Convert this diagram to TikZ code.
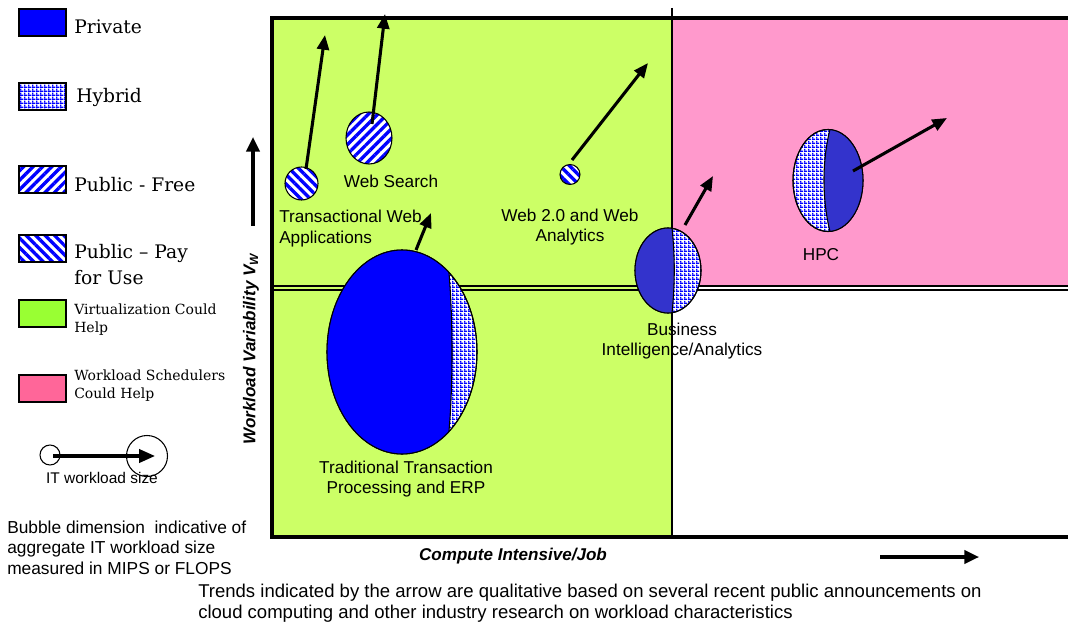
\documentclass[tikz,border=0pt]{standalone}
\usepackage{fontspec}
\setmainfont{DejaVu Serif}
\setsansfont{Liberation Sans}
\usetikzlibrary{arrows.meta,patterns,patterns.meta,shapes.geometric}

\definecolor{greenbg}{HTML}{CCFF66}
\definecolor{pinkbg}{HTML}{FF99CC}
\definecolor{privblue}{HTML}{0000FF}
\definecolor{darkblue}{HTML}{3333CC}
\definecolor{patblue}{HTML}{0000FF}
\definecolor{leggreen}{HTML}{99FF33}
\definecolor{legpink}{HTML}{FF6699}

\tikzdeclarepattern{name=hybridpat, type=uncolored,
  bounding box={(0pt,0pt) and (3pt,3pt)}, tile size={(3pt,3pt)},
  code={\fill (0pt,0pt) rectangle (3pt,1.3pt); \fill (0pt,1.3pt) rectangle (1.3pt,3pt);}}

\begin{document}
\begin{tikzpicture}[x=0.75pt,y=-0.75pt,
  hyb/.style={preaction={fill=white},pattern=hybridpat,pattern color=patblue},
  pfree/.style={preaction={fill=white},pattern={Lines[angle=45,distance=5pt,line width=2.5pt]},pattern color=patblue},
  ppay/.style={preaction={fill=white},pattern={Lines[angle=-45,distance=5pt,line width=2.5pt]},pattern color=patblue},
  outline/.style={draw=black,line width=0.8pt},
  bubble/.style={ellipse,inner sep=0pt,outline},
  trend/.style={line width=2.3pt,-{Triangle[length=11pt,width=9pt]}},
  lbl/.style={font=\sffamily\fontsize{12.9}{15.5}\selectfont,align=center,inner sep=0pt},
  legbox/.style={draw=black,line width=0.8pt,minimum width=35.25pt,minimum height=20.25pt,inner sep=0pt},
  legtxt/.style={font=\fontsize{14}{19.5}\selectfont,inner sep=0pt,align=left},
  legsmall/.style={font=\fontsize{10.5}{13.5}\selectfont,inner sep=0pt,align=left},
  axislbl/.style={font=\sffamily\bfseries\itshape\fontsize{12.8}{14}\selectfont,inner sep=0pt},
  axarrow/.style={line width=2.3pt,-{Triangle[length=11pt,width=10pt]}},
]
\useasboundingbox (0,0) rectangle (1068,624);

% quadrants
\fill[greenbg] (272,18) rectangle (672,537);
\fill[pinkbg] (672,18) rectangle (1075,286);
% middle double line
\draw[line width=2pt] (272,286) -- (1075,286);
\draw[line width=0.8pt] (272,290) -- (1075,290);
% vertical divider
\draw[line width=2pt] (672,8) -- (672,537);
% frame
\draw[line width=3pt] (1080,18) -- (272,18) -- (272,537) -- (1080,537);

% Traditional Transaction Processing and ERP
\node[bubble,hyb,minimum width=112.5pt,minimum height=153pt] (tt) at (402,352) {};
\begin{scope}
  \clip (402,352) ellipse [x radius=75, y radius=102];
  \fill[privblue] (320,240) -- (449,240) -- (449,273) .. controls (453,320) and (453,385) .. (449,431) -- (449,470) -- (320,470) -- cycle;
\end{scope}
\draw[line width=0.8pt] (449,273) .. controls (453,320) and (453,385) .. (449,431);
\draw[outline] (402,352) ellipse [x radius=75, y radius=102];

% Business Intelligence
\node[bubble,hyb,minimum width=49.5pt,minimum height=63.75pt] (bi) at (668,270.5) {};
\begin{scope}
  \clip (668,270.5) ellipse [x radius=33, y radius=42.5];
  \fill[darkblue] (630,220) -- (672,220) -- (672,228) .. controls (675,255) and (675,285) .. (672,313) -- (672,320) -- (630,320) -- cycle;
\end{scope}
\draw[line width=0.8pt] (672,228) .. controls (675,255) and (675,285) .. (672,313);
\draw[outline] (668,270.5) ellipse [x radius=33, y radius=42.5];

% HPC
\node[bubble,hyb,minimum width=52.5pt,minimum height=76.5pt] (hpc) at (828,180.5) {};
\begin{scope}
  \clip (828,180.5) ellipse [x radius=35, y radius=51];
  \fill[darkblue] (830,125) -- (830,129.5) .. controls (822,160) and (822,200) .. (830,231.5) -- (830,236) -- (870,236) -- (870,125) -- cycle;
\end{scope}
\draw[line width=0.8pt] (830,129.5) .. controls (822,160) and (822,200) .. (830,231.5);
\draw[outline] (828,180.5) ellipse [x radius=35, y radius=51];

% striped bubbles
\node[bubble,ppay,minimum width=24.75pt,minimum height=24.75pt] (tw) at (301.5,183.5) {};
\node[bubble,pfree,minimum width=34.5pt,minimum height=39pt] (ws) at (369,138) {};
\node[bubble,ppay,minimum width=15pt,minimum height=15pt] (w2) at (570,174.5) {};

% trend arrows
\coordinate (twS) at (306,169);
\coordinate (twE) at (325,35);
\coordinate (wsS) at (372,124);
\coordinate (wsE) at (385,14);
\coordinate (w2S) at (572,160);
\coordinate (w2E) at (648,63);
\coordinate (ttS) at (416,250);
\coordinate (ttE) at (431,213);
\coordinate (biS) at (685,225);
\coordinate (biE) at (713,176);
\coordinate (hpcS) at (853,171);
\coordinate (hpcE) at (947,118);
\draw[trend] (twS) -- (twE);
\draw[trend] (wsS) -- (wsE);
\draw[trend] (w2S) -- (w2E);
\draw[trend] (ttS) -- (ttE);
\draw[trend] (biS) -- (biE);
\draw[trend] (hpcS) -- (hpcE);

% bubble labels
\node[lbl,align=left,anchor=west] (twL) at (279,228.5) {Transactional Web\\Applications};
\node[lbl] (wsL) at (391,181) {Web Search};
\node[lbl] (w2L) at (570,227) {Web 2.0 and Web\\Analytics};
\node[lbl] (ttL) at (406,479) {Traditional Transaction\\Processing and ERP};
\node[lbl] (biL) at (682,341) {Business\\Intelligence/Analytics};
\node[lbl] (hpcL) at (821,255) {HPC};

% axes
\coordinate (vS) at (253,226);
\coordinate (vE) at (253,137);
\draw[axarrow] (vS) -- (vE);
\node[axislbl,rotate=90] (vL) at (251,349) {Workload Variability V\textsubscript{W}};
\coordinate (hS) at (880,557);
\coordinate (hE) at (979,557);
\draw[axarrow] (hS) -- (hE);
\node[axislbl] (hL) at (513,556) {Compute Intensive/Job};

% legend
\node[legbox,fill=privblue] (k1) at (42.5,22.5) {};
\node[legtxt,anchor=base west] (k1t) at (74,34) {Private};
\node[legbox,hyb] (k2) at (42.5,96.5) {};
\node[legtxt,anchor=base west] (k2t) at (76,103) {Hybrid};
\node[legbox,pfree] (k3) at (42.5,179.5) {};
\node[legtxt,anchor=base west] (k3t) at (74,192) {Public - Free};
\node[legbox,ppay] (k4) at (42.5,248.5) {};
\node[legtxt,anchor=west] (k4t) at (74,265) {Public – Pay\\for Use};
\node[legbox,fill=leggreen] (k5) at (42.5,313.5) {};
\node[legsmall,anchor=west] (k5t) at (74,320) {Virtualization Could\\Help};
\node[legbox,fill=legpink] (k6) at (42.5,388.5) {};
\node[legsmall,anchor=west] (k6t) at (74,386) {Workload Schedulers\\Could Help};

% workload size legend
\node[circle,outline,inner sep=0pt,minimum size=15pt] (ls) at (50,455) {};
\node[circle,outline,inner sep=0pt,minimum size=30.75pt] (lb) at (147,456) {};
\coordinate (lsS) at (53,456);
\coordinate (lsE) at (155,456);
\draw[line width=2.3pt,-{Triangle[length=12pt,width=10pt]}] (lsS) -- (lsE);
\node[lbl,font=\sffamily\fontsize{11.6}{13}\selectfont] (lsL) at (102,478) {IT workload size};

\node[lbl,align=left,anchor=west,font=\sffamily\fontsize{13}{15.4}\selectfont] (note) at (7,547.5) {Bubble dimension~ indicative of\\aggregate IT workload size\\measured in MIPS or FLOPS};
\node[lbl,align=left,anchor=west,font=\sffamily\fontsize{13.9}{15.75}\selectfont] (trend) at (198,603.5) {Trends indicated by the arrow are qualitative based on several recent public announcements on\\cloud computing and other industry research on workload characteristics};
\end{tikzpicture}
\end{document}
